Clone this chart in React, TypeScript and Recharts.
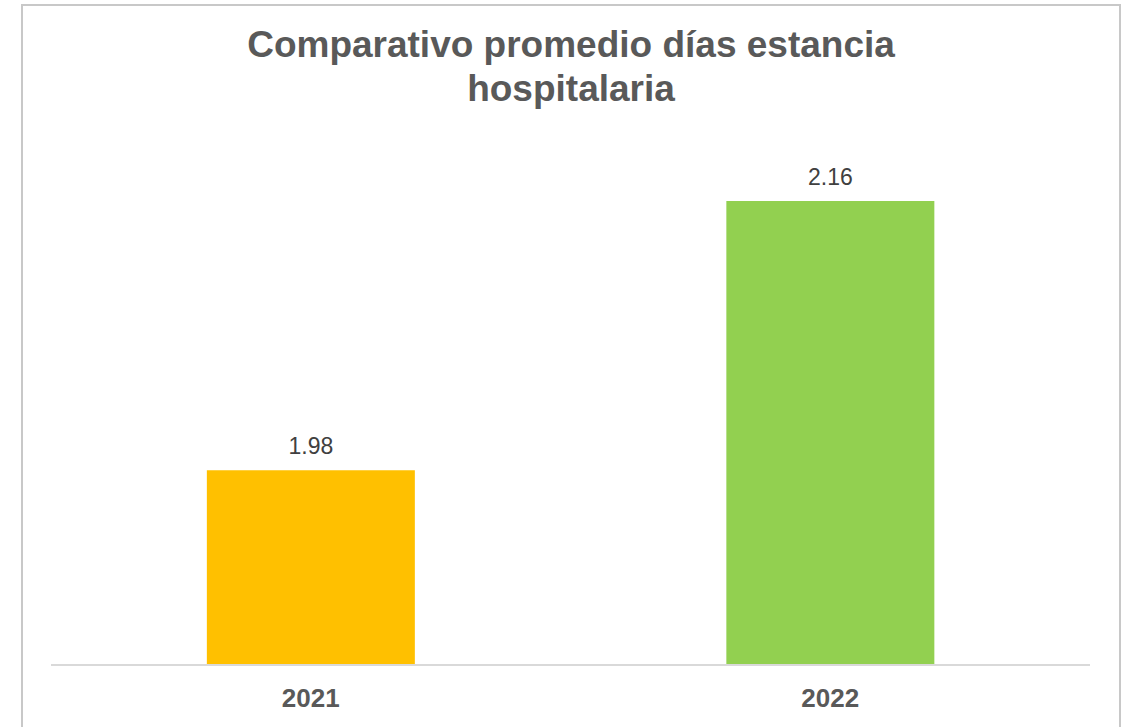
import React from "react";
import { BarChart, Bar, XAxis, YAxis, Cell, LabelList } from "recharts";

const categories = ["2021", "2022"];
const values = [1.98, 2.16];
const barColors = ["#FFC000", "#92D050"];
const yDomain: [number, number] = [1.85, 2.2];

const data = categories.map((c, i) => ({ year: c, value: values[i] }));

const FONT = '"Liberation Sans", Arial, sans-serif';

export default function App() {
  return (
    <div
      style={{
        position: "absolute",
        left: 0,
        top: 0,
        width: 1127,
        height: 727,
        overflow: "hidden",
        background: "#ffffff",
        fontFamily: FONT,
      }}
    >
      <div
        style={{
          position: "absolute",
          left: 21,
          top: 4,
          width: 1096,
          height: 760,
          border: "2px solid #c8c8c8",
        }}
      />
      <div
        style={{
          position: "absolute",
          left: 21,
          top: 23,
          width: 1100,
          textAlign: "center",
          fontFamily: FONT,
          fontWeight: "bold",
          fontSize: 37,
          lineHeight: "44px",
          color: "#595959",
        }}
      >
        Comparativo promedio días estancia
        <br />
        hospitalaria
      </div>
      <div style={{ position: "absolute", left: 0, top: 0 }}>
        <BarChart
          width={1127}
          height={727}
          data={data}
          margin={{ top: 141, right: 37, bottom: 22, left: 51 }}
          barCategoryGap="30%"
        >
          <XAxis
            dataKey="year"
            height={40}
            axisLine={{ stroke: "#d9d9d9", strokeWidth: 2 }}
            tickLine={false}
            tickMargin={18}
            tick={{ fill: "#595959", fontSize: 26, fontWeight: "bold", fontFamily: FONT }}
          />
          <YAxis hide domain={yDomain} allowDataOverflow />
          <Bar dataKey="value" isAnimationActive={false}>
            {data.map((d, i) => (
              <Cell key={d.year} fill={barColors[i]} />
            ))}
            <LabelList
              dataKey="value"
              position="top"
              offset={16}
              formatter={(v: number) => v.toFixed(2)}
              style={{ fill: "#404040", fontSize: 23, fontFamily: FONT }}
            />
          </Bar>
        </BarChart>
      </div>
    </div>
  );
}
